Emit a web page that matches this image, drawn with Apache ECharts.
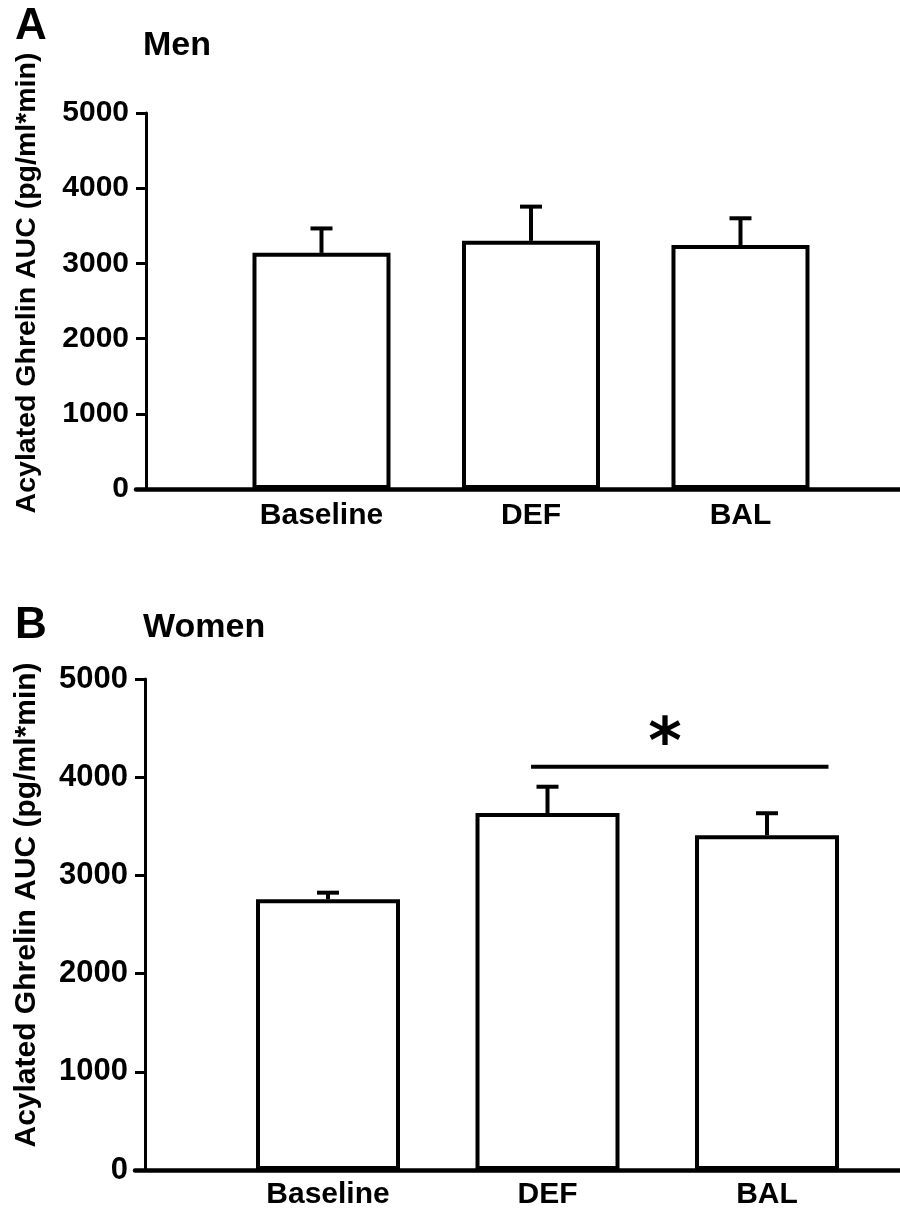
<!DOCTYPE html>
<html><head><meta charset="utf-8">
<script src="https://cdn.jsdelivr.net/npm/echarts@6/dist/echarts.min.js"></script>
<style>html,body{margin:0;padding:0;background:#fff}#c{width:900px;height:1213px}</style>
</head><body><div id="c"></div>
<script>
// ---- data ----
const categories = ['Baseline', 'DEF', 'BAL'];
const menMean = [3140, 3300, 3245];
const menSEM = [325, 455, 355];
const womenMean = [2757, 3635, 3408];
const womenSEM = [67, 268, 225];
const yTickValues = [0, 1000, 2000, 3000, 4000, 5000];
const panelLetters = ['A', 'B'];
const panelTitles = ['Men', 'Women'];
const yAxisTitle = 'Acylated Ghrelin AUC (pg/ml*min)';
const sigValue = 4107;
const sigMark = '*';

// ---- layout / style ----
const FONT = '"Liberation Sans", Arial, Helvetica, sans-serif';
const chart = echarts.init(document.getElementById('c'), null, { renderer: 'canvas' });

const panels = [
  { grid: { left: 136, top: 113, height: 376, right: 0 }, xMin: 0.1146, xMax: 3.7614, barWidth: 138, tickFont: 30, catFont: 30, catMargin: 12 },
  { grid: { left: 135, top: 679, height: 491, right: 0 }, xMin: 0.1207, xMax: 3.6059, barWidth: 144, tickFont: 31, catFont: 30, catMargin: 10 }
];

function xAxisCfg(i) {
  const p = panels[i];
  return {
    type: 'value', gridIndex: i, min: p.xMin, max: p.xMax,
    axisLine: { show: true, onZero: false, lineStyle: { color: '#000', width: 4.5 } },
    axisTick: { show: false }, splitLine: { show: false },
    axisLabel: {
      customValues: categories.map((c, k) => k + 1),
      formatter: v => categories[Math.round(v) - 1] || '',
      color: '#000', fontFamily: FONT, fontWeight: 'bold', fontSize: p.catFont, margin: p.catMargin
    }
  };
}
function yAxisCfg(i) {
  const p = panels[i];
  return {
    type: 'value', gridIndex: i, min: yTickValues[0], max: yTickValues[yTickValues.length - 1],
    interval: yTickValues[1] - yTickValues[0], offset: -10,
    axisLine: { show: true, lineStyle: { color: '#000', width: 3 } },
    axisTick: { show: true, length: 10, lineStyle: { color: '#000', width: 3 } },
    splitLine: { show: false },
    axisLabel: { color: '#000', fontFamily: FONT, fontWeight: 'bold', fontSize: p.tickFont, margin: 17, formatter: v => String(v) }
  };
}
function barSeries(i, means) {
  return {
    type: 'bar', xAxisIndex: i, yAxisIndex: i, barWidth: panels[i].barWidth,
    data: means.map((v, k) => [k + 1, v]),
    itemStyle: { color: '#fff', borderColor: '#000', borderWidth: 4 },
    silent: true, z: 2
  };
}
function errSeries(i, means, sems) {
  return {
    type: 'custom', xAxisIndex: i, yAxisIndex: i, z: 3, silent: true,
    data: means.map((v, k) => [k + 1, v, sems[k]]),
    renderItem: (params, api) => {
      const x = api.value(0), m = api.value(1), e = api.value(2);
      const p1 = api.coord([x, m]);
      const p2 = api.coord([x, m + e]);
      const st = { stroke: '#000', lineWidth: 4 };
      return {
        type: 'group', children: [
          { type: 'line', shape: { x1: p1[0], y1: p1[1], x2: p2[0], y2: p2[1] }, style: st },
          { type: 'line', shape: { x1: p2[0] - 11, y1: p2[1], x2: p2[0] + 11, y2: p2[1] }, style: st }
        ]
      };
    }
  };
}
// significance bracket between DEF and BAL (women)
const sigSeries = {
  type: 'custom', xAxisIndex: 1, yAxisIndex: 1, z: 4, silent: true,
  data: [[2, 3, sigValue]],
  renderItem: (params, api) => {
    const a = api.coord([api.value(0) - 0.075, api.value(2)]);
    const b = api.coord([api.value(1) + 0.28, api.value(2)]);
    const c = api.coord([(api.value(0) + api.value(1)) / 2 + 0.035, api.value(2)]);
    return {
      type: 'group', children: [
        { type: 'line', shape: { x1: a[0], y1: a[1], x2: b[0], y2: b[1] }, style: { stroke: '#000', lineWidth: 4 } },
        { type: 'text', x: c[0], y: c[1] + 12, style: { text: sigMark, fill: '#000', font: 'bold 64px "DejaVu Sans", ' + FONT, textAlign: 'center', textVerticalAlign: 'bottom' } }
      ]
    };
  }
};

const textEls = [];
const letterPos = [[15, 27], [15, 626]];
const titlePos = [[143, 46], [143, 628]];
const yTitlePos = [[27, 283], [27, 905]];
const yTitleFont = [28.5, 30];
for (let i = 0; i < 2; i++) {
  textEls.push({ type: 'text', x: letterPos[i][0], y: letterPos[i][1], style: { text: panelLetters[i], fill: '#000', font: 'bold 44px ' + FONT, textAlign: 'left', textVerticalAlign: 'middle' } });
  textEls.push({ type: 'text', x: titlePos[i][0], y: titlePos[i][1], style: { text: panelTitles[i], fill: '#000', font: 'bold 34px ' + FONT, textAlign: 'left', textVerticalAlign: 'middle' } });
  textEls.push({ type: 'text', x: yTitlePos[i][0], y: yTitlePos[i][1], rotation: Math.PI / 2, style: { text: yAxisTitle, fill: '#000', font: 'bold ' + yTitleFont[i] + 'px ' + FONT, textAlign: 'center', textVerticalAlign: 'middle' } });
}

chart.setOption({
  backgroundColor: '#fff',
  animation: false,
  grid: panels.map(p => Object.assign({ containLabel: false }, p.grid)),
  xAxis: [xAxisCfg(0), xAxisCfg(1)],
  yAxis: [yAxisCfg(0), yAxisCfg(1)],
  series: [
    barSeries(0, menMean), errSeries(0, menMean, menSEM),
    barSeries(1, womenMean), errSeries(1, womenMean, womenSEM),
    sigSeries
  ],
  graphic: textEls
});
</script></body></html>
